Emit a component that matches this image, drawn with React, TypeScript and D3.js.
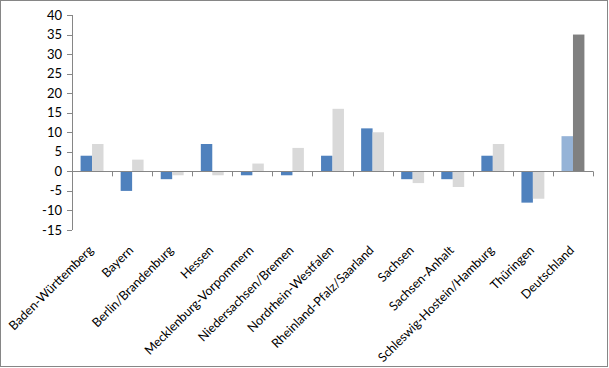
import React from "react";
import * as d3 from "d3";

const width = 609;
const height = 368;

const categories = [
  "Baden-Württemberg",
  "Bayern",
  "Berlin/Brandenburg",
  "Hessen",
  "Mecklenburg-Vorpommern",
  "Niedersachsen/Bremen",
  "Nordrhein-Westfalen",
  "Rheinland-Pfalz/Saarland",
  "Sachsen",
  "Sachsen-Anhalt",
  "Schleswig-Hostein/Hamburg",
  "Thüringen",
  "Deutschland"
];
const seriesA = [4, -5, -2, 7, -1, -1, 4, 11, -2, -2, 4, -8, 9];
const seriesB = [7, 3, -1, -1, 2, 6, 16, 10, -3, -4, 7, -7, 35];
const colorsA = ["#4F81BD", "#95B3D7"]; // regular, Deutschland
const colorsB = ["#D9D9D9", "#808080"];
const yTicks = [40, 35, 30, 25, 20, 15, 10, 5, 0, -5, -10, -15];

const margin = { left: 72, right: 16, top: 15, bottom: 138 };
const font = "Lato, 'Open Sans', sans-serif";

export default function App() {
  const x = d3
    .scaleBand()
    .domain(categories)
    .range([margin.left, width - margin.right]);
  const inner = d3
    .scaleBand()
    .domain(["a", "b"])
    .range([0, x.bandwidth()])
    .paddingInner(0)
    .paddingOuter(0.75);
  const y = d3
    .scaleLinear()
    .domain([-15, 40])
    .range([height - margin.bottom, margin.top]);

  const y0 = y(0);
  const axisColor = "#868686";
  const bars = categories.flatMap((c, i) => {
    const isTotal = c === "Deutschland" ? 1 : 0;
    return [
      { key: c + "a", x: x(c)! + inner("a")!, v: seriesA[i], color: colorsA[isTotal] },
      { key: c + "b", x: x(c)! + inner("b")!, v: seriesB[i], color: colorsB[isTotal] }
    ];
  });

  return (
    <svg
      width={width}
      height={height}
      style={{ position: "absolute", left: 0, top: 0, background: "#fff" }}
    >
      <rect x={0.5} y={0.5} width={width - 2} height={height - 2} fill="#fff" stroke={axisColor} />
      {bars.map(b => (
        <rect
          key={b.key}
          x={b.x}
          y={Math.min(y(b.v), y0)}
          width={inner.bandwidth()}
          height={Math.abs(y(b.v) - y0)}
          fill={b.color}
        />
      ))}
      {/* y axis */}
      <line x1={margin.left + 0.5} x2={margin.left + 0.5} y1={y(40)} y2={y(-15)} stroke={axisColor} />
      {yTicks.map(t => (
        <g key={t}>
          <line x1={margin.left - 5} x2={margin.left} y1={Math.round(y(t)) + 0.5} y2={Math.round(y(t)) + 0.5} stroke={axisColor} />
          <text
            x={margin.left - 10}
            y={y(t)}
            dy="0.35em"
            textAnchor="end"
            fontFamily={font}
            fontSize={13}
            fill="#000"
          >
            {t}
          </text>
        </g>
      ))}
      {/* x axis at zero */}
      <line x1={margin.left} x2={width - margin.right} y1={Math.round(y0) + 0.5} y2={Math.round(y0) + 0.5} stroke={axisColor} />
      {categories.map(c => (
        <line
          key={c + "t"}
          x1={Math.round(x(c)! + x.bandwidth()) + 0.5}
          x2={Math.round(x(c)! + x.bandwidth()) + 0.5}
          y1={y0}
          y2={y0 + 5}
          stroke={axisColor}
        />
      ))}
      {categories.map(c => (
        <text
          key={c + "l"}
          transform={`translate(${x(c)! + x.bandwidth() / 2 + 2},${y(-15) + 21}) rotate(-45)`}
          textAnchor="end"
          fontFamily={font}
          fontSize={12.5}
          fill="#000"
        >
          {c}
        </text>
      ))}
    </svg>
  );
}
